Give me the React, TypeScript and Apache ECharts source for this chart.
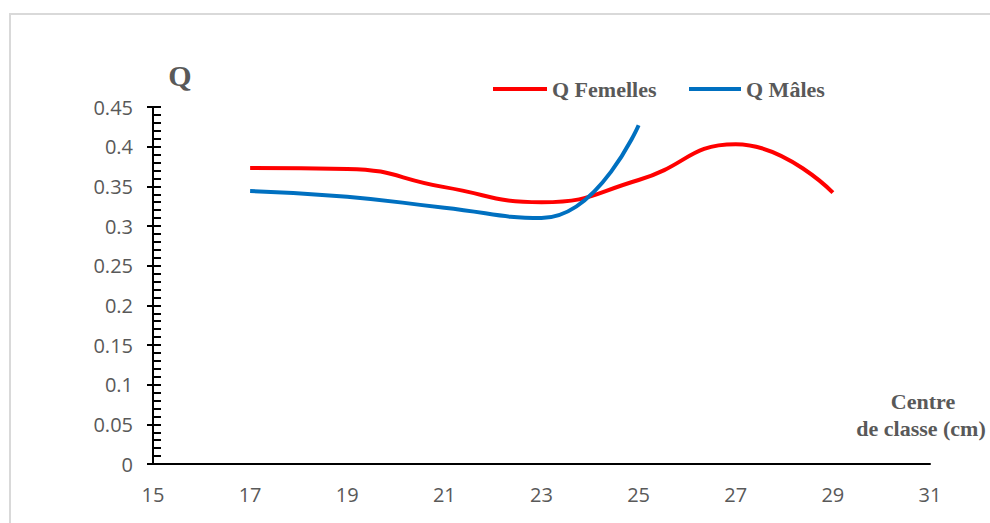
import React, { useEffect, useRef } from "react";
import * as echarts from "echarts";

const xValues = [17, 19, 21, 23, 25, 27, 29];
const femelles = [0.373, 0.372, 0.349, 0.33, 0.358, 0.403, 0.342];
const malesX = [17, 19, 21, 23, 25];
const males = [0.344, 0.337, 0.323, 0.31, 0.427];
const seriesNames = ["Q Femelles", "Q Mâles"];

export default function App() {
  const ref = useRef<HTMLDivElement>(null);
  useEffect(() => {
    if (!ref.current) return;
    const chart = echarts.init(ref.current, null, { renderer: "svg" });
    const gray = "#595959";
    const serif = "'Liberation Serif', 'Times New Roman', serif";
    const sans = "'Open Sans', sans-serif";
    chart.setOption({
      animation: false,
      backgroundColor: "#ffffff",
      grid: { left: 153, right: 60, top: 107, bottom: 59 },
      legend: [
        {
          data: [seriesNames[0]],
          left: 488,
          top: 73,
          icon: "rect",
          itemWidth: 54,
          itemHeight: 4,
          textStyle: { fontFamily: serif, fontWeight: "bold", fontSize: 22, color: gray },
        },
        {
          data: [seriesNames[1]],
          left: 684,
          top: 73,
          icon: "rect",
          itemWidth: 52,
          itemHeight: 4,
          textStyle: { fontFamily: serif, fontWeight: "bold", fontSize: 22, color: gray },
        },
      ],
      xAxis: {
        type: "value",
        min: 15,
        max: 31,
        interval: 2,
        axisLine: { show: true, lineStyle: { color: "#000", width: 2 } },
        axisTick: { show: false },
        splitLine: { show: false },
        axisLabel: { color: gray, fontFamily: sans, fontSize: 20, margin: 20 },
      },
      yAxis: [
        {
          type: "value",
          min: 0,
          max: 0.45,
          interval: 0.05,
          axisLine: { show: true, lineStyle: { color: "#000", width: 2 } },
          axisTick: { show: true, inside: false, length: 6, lineStyle: { color: "#000", width: 2 } },
          splitLine: { show: false },
          axisLabel: { color: gray, fontFamily: sans, fontSize: 20, margin: 20 },
        },
        {
          type: "value",
          position: "left",
          offset: 0,
          min: 0,
          max: 0.45,
          interval: 0.05,
          axisLine: { show: false },
          axisTick: { show: true, inside: true, length: 8, lineStyle: { color: "#000", width: 2 } },
          minorTick: { show: true, splitNumber: 5, length: 8, lineStyle: { color: "#000", width: 2 } },
          splitLine: { show: false },
          axisLabel: { show: false },
        },
      ],
      series: [
        {
          name: seriesNames[0],
          type: "line",
          data: xValues.map((x, i) => [x, femelles[i]]),
          smooth: 0.5,
          showSymbol: false,
          symbol: "none",
          lineStyle: { color: "#ff0000", width: 4 },
          itemStyle: { color: "#ff0000" },
        },
        {
          name: seriesNames[1],
          type: "line",
          data: malesX.map((x, i) => [x, males[i]]),
          smooth: 0.5,
          showSymbol: false,
          symbol: "none",
          lineStyle: { color: "#0070c0", width: 4 },
          itemStyle: { color: "#0070c0" },
        },
      ],
      graphic: [
        {
          type: "rect",
          shape: { x: 10, y: 14, width: 1100, height: 700 },
          style: { fill: "none", stroke: "#d9d9d9", lineWidth: 2 },
          silent: true,
          z: -10,
        },
        {
          type: "text",
          x: 180,
          y: 75,
          style: {
            text: "Q",
            fontFamily: serif,
            fontWeight: "bold",
            fontSize: 30,
            fill: gray,
            textAlign: "center",
            textVerticalAlign: "middle",
          },
        },
        {
          type: "text",
          x: 923,
          y: 401,
          style: {
            text: "Centre",
            fontFamily: serif,
            fontWeight: "bold",
            fontSize: 22,
            fill: gray,
            textAlign: "center",
            textVerticalAlign: "middle",
          },
        },
        {
          type: "text",
          x: 921,
          y: 428,
          style: {
            text: "de classe (cm)",
            fontFamily: serif,
            fontWeight: "bold",
            fontSize: 22,
            fill: gray,
            textAlign: "center",
            textVerticalAlign: "middle",
          },
        },
      ],
    });
    return () => chart.dispose();
  }, []);
  return (
    <div
      ref={ref}
      style={{ position: "absolute", left: 0, top: 0, width: 990, height: 523 }}
    />
  );
}
